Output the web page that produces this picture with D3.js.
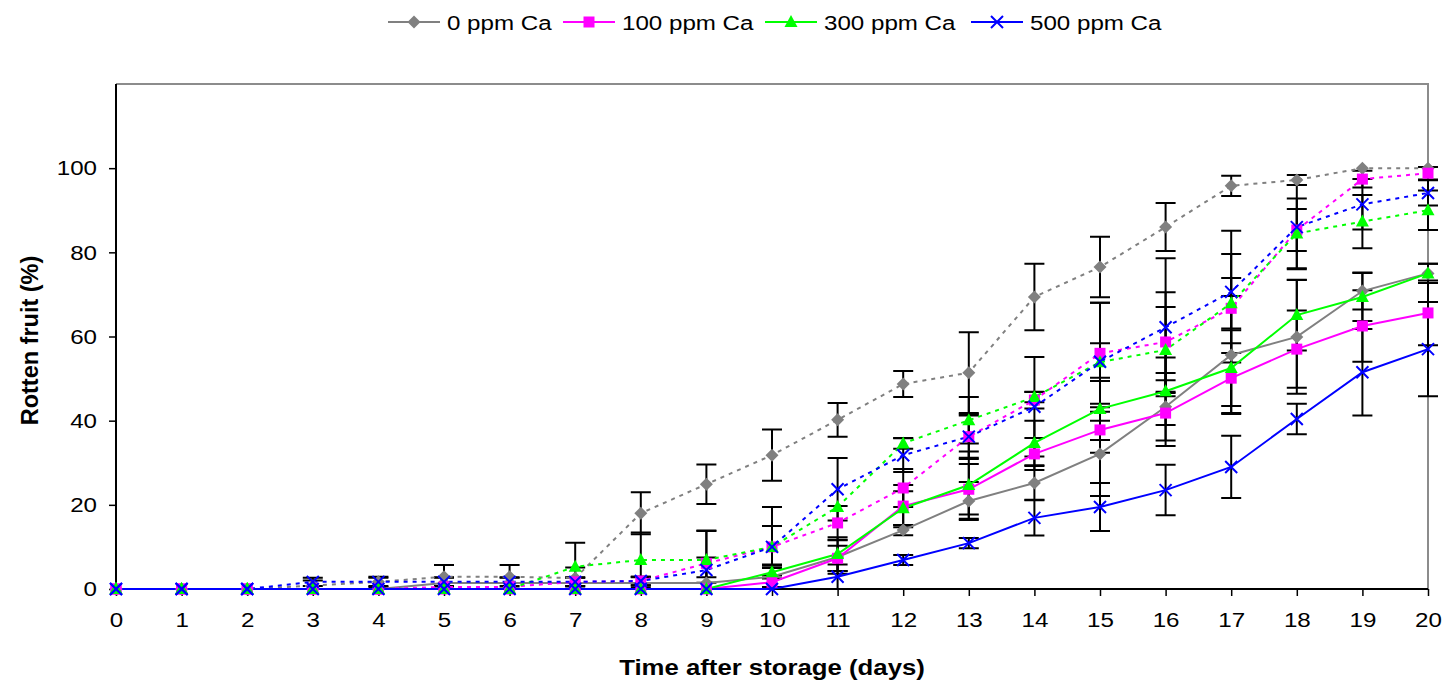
<!DOCTYPE html>
<html>
<head>
<meta charset="utf-8">
<script src="https://cdn.jsdelivr.net/npm/d3@7"></script>
<style>
  body { margin: 0; background: #fff; }
  svg { display: block; font-family: "Liberation Sans", Arial, sans-serif; }
</style>
</head>
<body>
<div id="chart"></div>
<script>
// Rotten fruit (%) over storage days, 4 calcium treatments, solid and dotted sets
const days = d3.range(0, 21);
const yTicks = [0, 20, 40, 60, 80, 100];

const ca0Solid    = [0,0,0,0,0,1.4,1.4,1.4,1.4,1.4,2.9,7.6,14,20.9,25.2,32.1,43.3,55.6,59.9,70.8,75];
const ca0SolidErr = [0,0,0,0,0,1.4,1.4,1.4,1.4,1.4,2.9,4,1.2,4.5,4,10,8,14,13.5,4.4,2.3];
const ca0Dot      = [0,0,0,0.8,1.7,2.9,2.9,2.6,18,24.9,31.8,40.2,48.7,51.4,69.4,76.5,86,95.8,97.2,100,100];
const ca0DotErr   = [0,0,0,1.2,1.2,2.8,2.8,2.5,5,4.7,6.1,4,3.1,9.6,7.9,7.2,5.7,2.4,1.2,0,0];

const ca100Solid    = [0,0,0,0,0,0,0,0,0,0,1.6,7.3,19.7,23.7,32.1,37.8,41.8,50.1,57,62.5,65.6];
const ca100SolidErr = [0,0,0,0,0,0,0,0,0,0,1.6,3,5,6,3.8,5.4,7.8,8.3,9.2,8.5,7.7];
const ca100Dot      = [0,0,0,0,0,0.5,0.5,1.7,1.9,6.1,10,15.7,24,36.2,44.9,56,58.7,66.7,85.3,97.4,98.8];
const ca100DotErr   = [0,0,0,0,0,0,0,1,1,7.8,5,4,4.5,5.3,2,12,11.8,12.9,5,2,1.5];

const ca300Solid    = [0,0,0,0,0,0,0,0,0,0,4,8.3,19.2,24.7,34.7,42.8,47,52.5,65.1,69.4,75];
const ca300SolidErr = [0,0,0,0,0,0,0,0,0,0,1.5,4,4,8,5.3,7.4,8,9,8.4,5.7,2.3];
const ca300Dot      = [0,0,0,0,0,0,0,5.3,6.9,6.9,10,19.5,34.6,40.1,45.6,53.9,56.8,67.9,84.5,87.3,90];
const ca300DotErr   = [0,0,0,0,0,0,0,5.7,6.5,6.9,5,0,1.3,5.5,1.2,4.5,10.2,6,8.3,6.3,4.7];

const ca500Solid    = [0,0,0,0,0,0,0,0,0,0,0,2.9,6.9,10.9,16.9,19.5,23.5,29,40.4,51.5,57];
const ca500SolidErr = [0,0,0,0,0,0,0,0,0,0,0,2.9,1.2,1.2,4.2,5.7,6,7.4,3.6,10.3,11.2];
const ca500Dot      = [0,0,0,1.7,1.7,1.7,1.7,1.7,1.9,4.5,10,23.7,31.8,36.2,43.3,54,62.2,70.6,86,91.4,94.1];
const ca500DotErr   = [0,0,0,1,1,1,1,1,1,3,9.5,7.4,4,5,11.8,14,16.4,14.5,10,6,3];

const treatments = ["0 ppm Ca", "100 ppm Ca", "300 ppm Ca", "500 ppm Ca"];
const colors = ["#808080", "#ff00ff", "#00ff00", "#0000ff"];
const shapes = ["diamond", "square", "triangle", "cross"];

const series = [
    { t: 0, dotted: true,  values: ca0Dot,     err: ca0DotErr },
    { t: 0, dotted: false, values: ca0Solid,   err: ca0SolidErr },
    { t: 1, dotted: true,  values: ca100Dot,   err: ca100DotErr },
    { t: 1, dotted: false, values: ca100Solid, err: ca100SolidErr },
    { t: 2, dotted: true,  values: ca300Dot,   err: ca300DotErr },
    { t: 2, dotted: false, values: ca300Solid, err: ca300SolidErr },
    { t: 3, dotted: true,  values: ca500Dot,   err: ca500DotErr },
    { t: 3, dotted: false, values: ca500Solid, err: ca500SolidErr }
];

const width = 1445;
const height = 683;
const margin = { top: 84, right: 17, bottom: 94, left: 116 };
const stretch = 1.15; // text in the original is a bit wide

const svg = d3.select("#chart").append("svg")
    .attr("width", width)
    .attr("height", height);

const x = d3.scaleLinear()
    .domain([0, 20])
    .range([margin.left, width - margin.right]);

const y = d3.scaleLinear()
    .domain([0, 120])
    .range([height - margin.bottom, margin.top]);

// marker drawing
function drawMarker(g, shape, color, cx, cy) {
    if (shape === "diamond") {
        g.append("path")
            .attr("d", `M${cx},${cy - 6.5}L${cx + 6.5},${cy}L${cx},${cy + 6.5}L${cx - 6.5},${cy}Z`)
            .attr("fill", color);
    } else if (shape === "square") {
        g.append("rect")
            .attr("x", cx - 5.5).attr("y", cy - 5.5)
            .attr("width", 11).attr("height", 11)
            .attr("fill", color);
    } else if (shape === "triangle") {
        g.append("path")
            .attr("d", `M${cx},${cy - 7}L${cx + 6.5},${cy + 5}L${cx - 6.5},${cy + 5}Z`)
            .attr("fill", color);
    } else {
        g.append("path")
            .attr("d", `M${cx - 6},${cy - 6}L${cx + 6},${cy + 6}M${cx - 6},${cy + 6}L${cx + 6},${cy - 6}`)
            .attr("stroke", color)
            .attr("stroke-width", 2)
            .attr("fill", "none");
    }
}

// plot area border (top and right in gray)
svg.append("path")
    .attr("d", `M${x(0)},${y(120)}H${x(20)}V${y(0)}`)
    .attr("fill", "none")
    .attr("stroke", "#8c8c8c")
    .attr("stroke-width", 2);

// axes
const xAxis = svg.append("g")
    .attr("transform", `translate(0,${y(0)})`)
    .call(d3.axisBottom(x).tickValues(days).tickSize(7).tickPadding(16).tickFormat(d3.format("d")));

const yAxis = svg.append("g")
    .attr("transform", `translate(${x(0)},0)`)
    .call(d3.axisLeft(y).tickValues(yTicks).tickSize(7).tickPadding(9.5));

[xAxis, yAxis].forEach(a => {
    a.select(".domain").attr("stroke", "#000").attr("stroke-width", 2);
    a.selectAll(".tick line").attr("stroke", "#000").attr("stroke-width", 1.5);
    a.selectAll(".tick text")
        .attr("fill", "#000")
        .attr("transform", `scale(${stretch},1)`)
        .style("font-size", "21px")
        .style("font-family", "'Liberation Sans', Arial, sans-serif");
});
yAxis.select(".domain").attr("d", `M0,${y(120)}V${y(0)}`);
xAxis.select(".domain").attr("d", `M${x(0)},0H${x(20)}`);

// error bars
const errG = svg.append("g").attr("class", "error-bars");
series.forEach(s => {
    s.values.forEach((v, i) => {
        const e = s.err[i];
        if (!e) return;
        const cx = x(days[i]);
        const y1 = y(Math.max(v - e, 0));
        const y2 = y(v + e);
        errG.append("path")
            .attr("d", `M${cx},${y1}V${y2}M${cx - 10},${y1}H${cx + 10}M${cx - 10},${y2}H${cx + 10}`)
            .attr("stroke", "#000")
            .attr("stroke-width", 2)
            .attr("fill", "none");
    });
});

// lines
const line = d3.line()
    .x((d, i) => x(days[i]))
    .y(d => y(d));

svg.append("g").selectAll("path")
    .data(series)
    .enter()
    .append("path")
    .attr("d", d => line(d.values))
    .attr("fill", "none")
    .attr("stroke", d => colors[d.t])
    .attr("stroke-width", 2)
    .attr("stroke-dasharray", d => d.dotted ? "4 5" : null);

// markers
const markG = svg.append("g");
series.forEach(s => {
    s.values.forEach((v, i) => drawMarker(markG, shapes[s.t], colors[s.t], x(days[i]), y(v)));
});

// legend
const legendX = [388, 563, 765, 971];
const legend = svg.append("g").attr("transform", "translate(0,22)");
treatments.forEach((name, i) => {
    const g = legend.append("g").attr("transform", `translate(${legendX[i]},0)`);
    g.append("line")
        .attr("x1", 0).attr("x2", 52)
        .attr("y1", 0).attr("y2", 0)
        .attr("stroke", colors[i])
        .attr("stroke-width", 2);
    drawMarker(g, shapes[i], colors[i], 26, 0);
    g.append("text")
        .attr("transform", `translate(59,7.5) scale(${stretch},1)`)
        .style("font-size", "21px")
        .text(name);
});

// axis titles
svg.append("text")
    .attr("transform", `translate(${(x(0) + x(20)) / 2},675) scale(1.12,1)`)
    .attr("text-anchor", "middle")
    .style("font-size", "23px")
    .style("font-weight", "bold")
    .text("Time after storage (days)");

svg.append("text")
    .attr("transform", `translate(38,${(y(0) + y(120)) / 2 + 4}) rotate(-90)`)
    .attr("text-anchor", "middle")
    .style("font-size", "23.5px")
    .style("font-weight", "bold")
    .text("Rotten fruit (%)");
</script>
</body>
</html>
